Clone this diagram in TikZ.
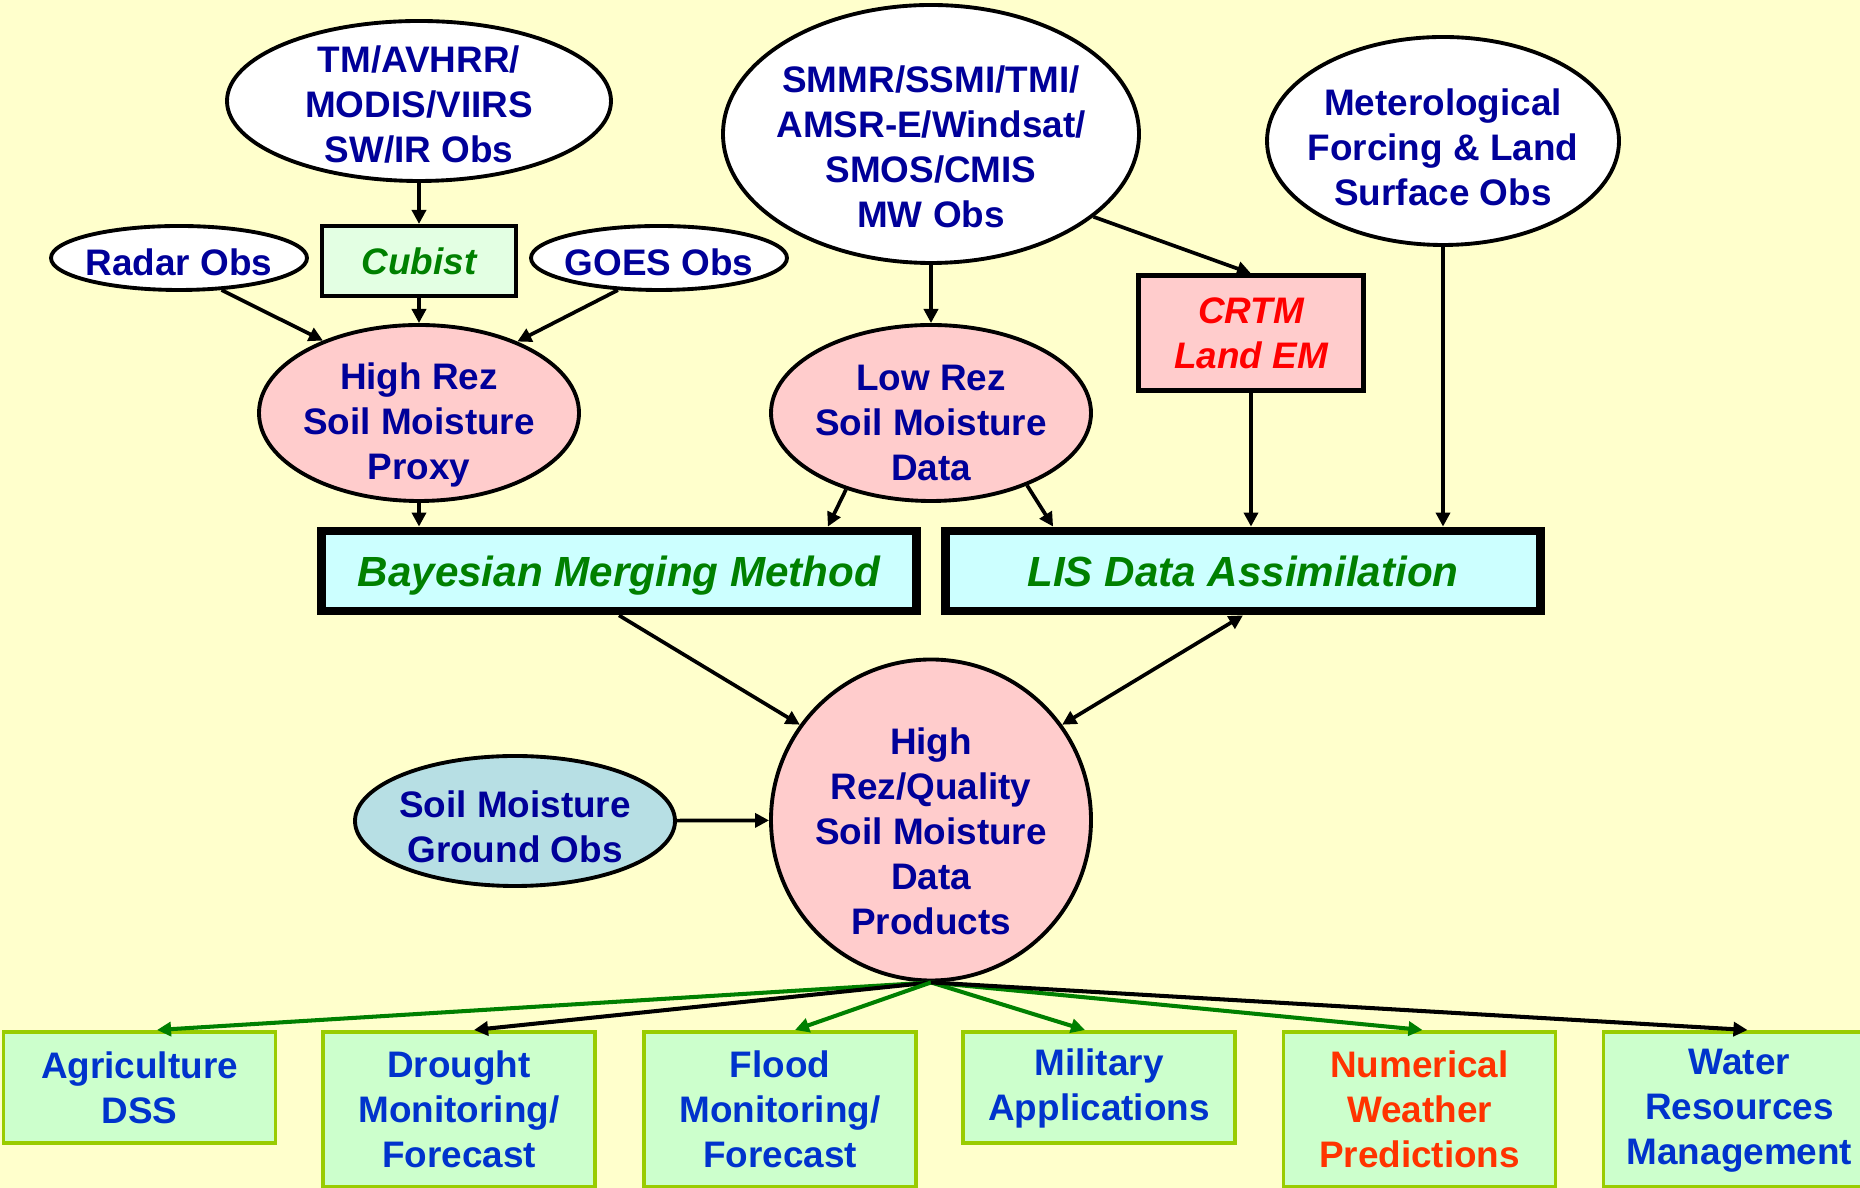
\documentclass[tikz,border=0pt]{standalone}
\usepackage{fontspec}
\setmainfont{Liberation Sans}
\usetikzlibrary{shapes.geometric,arrows.meta,calc}

\definecolor{paper}{HTML}{FFFFCC}
\definecolor{navy}{HTML}{000099}
\definecolor{leaf}{HTML}{008000}
\definecolor{rose}{HTML}{FFCCCC}
\definecolor{aqua}{HTML}{CCFFFF}
\definecolor{mint}{HTML}{E3FFE3}
\definecolor{sky}{HTML}{B7DFE4}
\definecolor{pale}{HTML}{CCFFCC}
\definecolor{lime}{HTML}{99CC00}
\definecolor{royal}{HTML}{0033CC}
\definecolor{flame}{HTML}{FF3300}

\newcommand{\lblfont}{\fontsize{21}{25.6}\selectfont\bfseries}
\newcommand{\mergefont}{\fontsize{24}{29}\selectfont\bfseries\itshape}

\tikzset{
  obs/.style={ellipse, draw, line width=2.2pt, fill=white, inner sep=0pt},
  words/.style 2 args={label={[font=\lblfont, text=navy, align=center, yshift=#1]center:#2}},
  tool/.style={rectangle, draw, line width=2.3pt, align=center, inner sep=0pt, font=\lblfont\itshape},
  merge/.style={rectangle, draw, line width=5pt, fill=aqua, text=leaf, inner sep=0pt, text depth=0pt, font=\mergefont, minimum width=11.9cm, minimum height=1.6cm},
  use/.style={rectangle, draw=lime, line width=2.2pt, fill=pale, text=royal, align=center, inner sep=0pt, font=\lblfont, minimum width=5.44cm, anchor=north},
  arr/.style={->, line width=2.1pt},
}

\begin{document}
\begin{tikzpicture}[>={Triangle[length=8pt,width=8pt]}]
    \useasboundingbox (0,0) rectangle (37.2,23.76);
    \fill[paper] (0,0) rectangle (37.2,23.76);

    \node[obs, minimum width=7.68cm, minimum height=3.2cm, words={-0.08cm}{TM/AVHRR/\\MODIS/VIIRS\\SW/IR Obs}] (tm) at (8.38,21.74) {};
    \node[obs, minimum width=5.12cm, minimum height=1.28cm, words={-0.08cm}{Radar Obs}] (radar) at (3.58,18.6) {};
    \node[tool, fill=mint, text=leaf, minimum width=3.88cm, minimum height=1.4cm] (cubist) at (8.38,18.54) {Cubist};
    \node[obs, minimum width=5.12cm, minimum height=1.28cm, words={-0.08cm}{GOES Obs}] (goes) at (13.18,18.6) {};
    \node[obs, fill=rose, minimum width=6.4cm, minimum height=3.52cm, words={-0.23cm}{High Rez\\Soil Moisture\\Proxy}] (hirez) at (8.38,15.5) {};

    \node[obs, minimum width=8.32cm, minimum height=5.16cm, words={-0.26cm}{SMMR/SSMI/TMI/\\AMSR-E/Windsat/\\SMOS/CMIS\\MW Obs}] (smmr) at (18.62,21.08) {};
    \node[obs, fill=rose, minimum width=6.4cm, minimum height=3.52cm, words={-0.2cm}{Low Rez\\Soil Moisture\\Data}] (lowrez) at (18.62,15.5) {};
    \node[obs, minimum width=7.04cm, minimum height=4.16cm, words={-0.12cm}{Meterological\\Forcing \& Land\\Surface Obs}] (met) at (28.86,20.94) {};
    \node[tool, fill=rose, text=red, minimum width=4.5cm, minimum height=2.3cm] (crtm) at (25.02,17.1) {CRTM\\Land EM};

    \node[merge] (bayes) at (12.38,12.34) {Bayesian Merging Method};
    \node[merge] (lis) at (24.86,12.34) {LIS Data Assimilation};

    \node[obs, fill=rose, minimum width=6.4cm, minimum height=6.42cm, words={-0.22cm}{High\\Rez/Quality\\Soil Moisture\\Data\\Products}] (hq) at (18.62,7.36) {};
    \node[obs, fill=sky, minimum width=6.4cm, minimum height=2.6cm, words={-0.12cm}{Soil Moisture\\Ground Obs}] (ground) at (10.3,7.34) {};

    \node[use, minimum height=2.22cm] (agri) at (2.79,3.16) {Agriculture\\DSS};
    \node[use, minimum height=3.1cm] (drought) at (9.18,3.16) {Drought\\Monitoring/\\Forecast};
    \node[use, minimum height=3.1cm] (flood) at (15.6,3.16) {Flood\\Monitoring/\\Forecast};
    \node[use, minimum height=2.22cm, text depth=0.1cm] (military) at (21.98,3.16) {Military\\Applications};
    \node[use, minimum height=3.1cm, text=flame] (nwp) at (28.39,3.16) {Numerical\\Weather\\Predictions};
    \node[use, minimum height=3.1cm, text depth=0.1cm] (water) at (34.79,3.16) {Water\\Resources\\Management};

    \draw[arr] (tm) -- (cubist);
    \draw[arr] (cubist) -- (hirez);
    \draw[arr] (radar.-37) -- (hirez.143);
    \draw[arr] (goes.218) -- (hirez.36);
    \draw[arr] (hirez.south) -- (hirez.south |- bayes.north);

    \draw[arr] (smmr) -- (lowrez);
    \draw[arr] (smmr.-27) -- (crtm.north);
    \draw[arr] (crtm.south) -- (crtm.south |- lis.north);
    \draw[arr] (met.south) -- (met.south |- lis.north);
    \draw[arr] (lowrez.222) -- ($(bayes.north east)+(-1.86,0)$);
    \draw[arr] (lowrez.-37) -- ($(lis.north west)+(2.24,0)$);

    \draw[arr] (bayes.south) -- (hq.144);
    \draw[arr, <->] (lis.south) -- (hq.36);
    \draw[arr] (ground) -- (hq);

    \foreach \dest/\dx/\col in {agri/0.35/leaf, drought/0.3/black, flood/0.3/leaf, military/-0.28/leaf, nwp/0.06/leaf, water/0.16/black}
      \draw[arr, draw=\col, line width=2.3pt] (hq.south) -- ($(\dest.north)+(\dx,0)$);
\end{tikzpicture}
\end{document}
